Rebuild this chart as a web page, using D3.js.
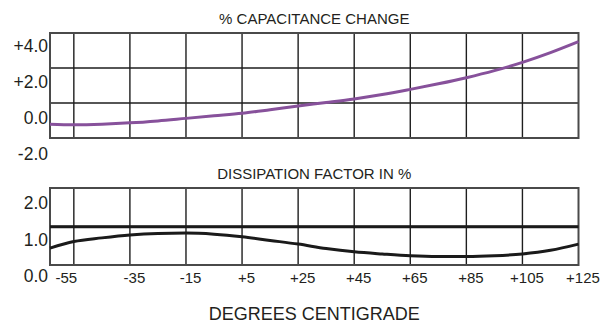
<!DOCTYPE html>
<html>
<head>
<meta charset="utf-8">
<script src="https://cdn.jsdelivr.net/npm/d3@7"></script>
<style>
  body { margin: 0; background: #fff; }
  text { font-family: "Liberation Sans", Arial, sans-serif; fill: #231f20; }
</style>
</head>
<body>
<div id="chart"></div>
<script>
// temperatures (deg C) the curves were read at
var temps = [-63.5, -55, -45, -35, -25, -15, -5, 5, 15, 25, 35, 45, 55, 65, 75, 85, 95, 105, 115, 125];
// % capacitance change
var capChange = [-0.34, -0.37, -0.34, -0.27, -0.16, -0.02, 0.12, 0.26, 0.46, 0.67, 0.86, 1.06, 1.30, 1.59, 1.90, 2.24, 2.63, 3.09, 3.63, 4.24];
// dissipation factor in %
var dissFactor = [0.77, 0.95, 1.05, 1.13, 1.17, 1.18, 1.15, 1.08, 0.98, 0.88, 0.76, 0.67, 0.61, 0.56, 0.54, 0.54, 0.56, 0.61, 0.71, 0.88];
var dfLimit = 1.35;

var xTicks = [-55, -35, -15, 5, 25, 45, 65, 85, 105, 125];
var capTicks = [4, 2, 0, -2];
var dfTicks = [2, 1, 0];

var width = 608, height = 325;
var left = 50, right = 578.5;

var svg = d3.select("#chart").append("svg")
    .attr("width", width)
    .attr("height", height);

var x = d3.scaleLinear().domain([-63.5, 125]).range([left, right]);

var fmtSigned = function (d) { return d > 0 ? "+" + d.toFixed(1) : d.toFixed(1); };

// draws one framed panel with grid and a curve
function panel(opts) {
  var g = svg.append("g");
  var top = opts.top, bottom = opts.bottom;
  var y = d3.scaleLinear().domain(opts.domain).range([bottom, top]);

  // vertical grid
  g.selectAll(".vgrid")
    .data(xTicks.filter(function (d) { return d < 125; }))
    .enter().append("line")
    .attr("x1", function (d) { return x(d); })
    .attr("x2", function (d) { return x(d); })
    .attr("y1", top).attr("y2", bottom)
    .attr("stroke", "#1e1e1e").attr("stroke-width", 1.4);

  // horizontal rows
  g.selectAll(".hgrid")
    .data(d3.range(1, opts.rows))
    .enter().append("line")
    .attr("x1", left).attr("x2", right)
    .attr("y1", function (i) { return top + i * (bottom - top) / opts.rows; })
    .attr("y2", function (i) { return top + i * (bottom - top) / opts.rows; })
    .attr("stroke", "#1e1e1e").attr("stroke-width", 1.4);

  g.append("rect")
    .attr("x", left).attr("y", top)
    .attr("width", right - left).attr("height", bottom - top)
    .attr("fill", "none").attr("stroke", "#4a4a4a").attr("stroke-width", 2);

  var yAxis = g.append("g")
    .attr("transform", "translate(" + (left - 2) + ",0)")
    .call(d3.axisLeft(y).tickValues(opts.ticks).tickSize(0).tickPadding(0).tickFormat(opts.format));
  yAxis.select(".domain").remove();
  yAxis.selectAll("text").style("font-size", "17.5px").style("font-family", "Liberation Sans, Arial, sans-serif").attr("fill", "#231f20");

  g.append("text")
    .attr("x", (left + right) / 2)
    .attr("y", top - 9)
    .attr("text-anchor", "middle")
    .style("font-size", "15px")
    .text(opts.title);

  return { g: g, y: y };
}

var capPanel = panel({
  top: 33, bottom: 138, rows: 3,
  domain: [-1.11, 4.72],
  ticks: capTicks, format: fmtSigned,
  title: "% CAPACITANCE CHANGE"
});

var dfPanel = panel({
  top: 188, bottom: 265, rows: 2,
  domain: [0.31, 2.41],
  ticks: dfTicks, format: d3.format(".1f"),
  title: "DISSIPATION FACTOR IN %"
});

var capLine = d3.line()
  .x(function (d, i) { return x(temps[i]); })
  .y(function (d) { return capPanel.y(d); })
  .curve(d3.curveMonotoneX);

capPanel.g.append("path")
  .attr("d", capLine(capChange))
  .attr("fill", "none")
  .attr("stroke", "#87519b")
  .attr("stroke-width", 3);

// limit line
dfPanel.g.append("line")
  .attr("x1", left).attr("x2", right)
  .attr("y1", dfPanel.y(dfLimit)).attr("y2", dfPanel.y(dfLimit))
  .attr("stroke", "#1a1a1a").attr("stroke-width", 3);

var dfLine = d3.line()
  .x(function (d, i) { return x(temps[i]); })
  .y(function (d) { return dfPanel.y(d); })
  .curve(d3.curveMonotoneX);

dfPanel.g.append("path")
  .attr("d", dfLine(dissFactor))
  .attr("fill", "none")
  .attr("stroke", "#1a1a1a")
  .attr("stroke-width", 3);

// x axis labels under the lower panel
var xAxis = svg.append("g")
  .attr("transform", "translate(0,272)")
  .call(d3.axisBottom(x).tickValues(xTicks).tickSize(0).tickPadding(0)
    .tickFormat(function (d) { return d > 0 ? "+" + d : "" + d; }));
xAxis.select(".domain").remove();
xAxis.selectAll("text")
  .style("font-size", "15px")
  .style("font-family", "Liberation Sans, Arial, sans-serif")
  .attr("fill", "#231f20")
  .attr("dx", function (d) { return d == -55 ? -8 : 4; });

svg.append("text")
  .attr("x", (left + right) / 2)
  .attr("y", 320)
  .attr("text-anchor", "middle")
  .style("font-size", "18px")
  .text("DEGREES CENTIGRADE");
</script>
</body>
</html>
